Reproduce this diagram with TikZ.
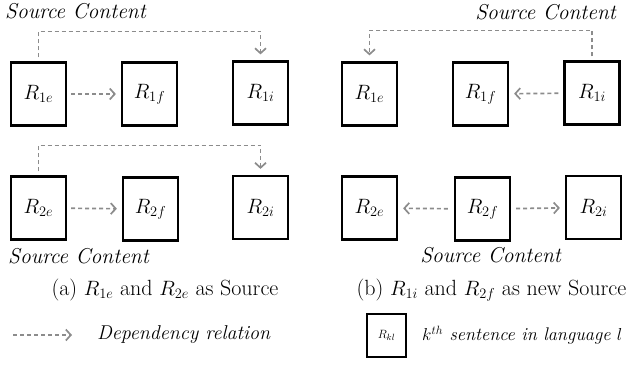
\documentclass[tikz,border=0pt]{standalone}
\usetikzlibrary{arrows.meta,calc}
\begin{document}
\begin{tikzpicture}[x=1pt,y=-1pt,
  box/.style={draw=black,line width=2.2pt,minimum width=55pt,minimum height=63pt,inner sep=0pt,font=\fontsize{20}{24}\selectfont},
  dep/.style={draw={rgb,255:red,140;green,140;blue,140},line width=1.7pt,dash pattern=on 4pt off 3pt,-{Straight Barb[length=5pt,width=11pt,line width=1.7pt]}},
  lbl/.style={inner sep=0pt,font=\fontsize{21.5}{24}\selectfont},
  captext/.style={inner sep=0pt,font=\fontsize{22}{26}\selectfont}]
\useasboundingbox (0,0) rectangle (628,364);
% left panel
\node[box] (a1e) at (38.5,94) {$R_{1e}$};
\node[box] (a1f) at (149.5,94) {$R_{1f}$};
\node[box] (a1i) at (260.5,93) {$R_{1i}$};
\node[box] (a2e) at (38.5,208) {$R_{2e}$};
\node[box] (a2f) at (150.5,209) {$R_{2f}$};
\node[box] (a2i) at (260.5,207.5) {$R_{2i}$};
% right panel
\node[box] (b1e) at (369.5,94) {$R_{1e}$};
\node[box] (b1f) at (480.5,94) {$R_{1f}$};
\node[box] (b1i) at (592,93) {$R_{1i}$};
\node[box] (b2e) at (369.5,208) {$R_{2e}$};
\node[box] (b2f) at (482.5,209) {$R_{2f}$};
\node[box] (b2i) at (593.5,207.5) {$R_{2i}$};
% source content labels
\node[lbl,anchor=west] (sa1) at (5,11) {\textit{Source Content}};
\node[lbl,anchor=east] (sb1) at (617,12) {\textit{Source Content}};
\node[lbl,anchor=west] (sa2) at (8,256) {\textit{Source Content}};
\node[lbl] (sb2) at (491,255) {\textit{Source Content}};
% connectors left
\draw[dep,shorten <=4pt,shorten >=5pt] (a1e) -- (a1f);
\draw[dep,shorten <=4pt,shorten >=6pt] (a1e.north) -- ++(0,-30) -| (a1i.north);
\draw[dep,shorten <=4pt,shorten >=5pt] (a2e) -- (a2f);
\draw[dep,shorten <=4pt,shorten >=6pt] (a2e.north) -- ++(0,-30) -| (a2i.north);
% connectors right
\draw[dep,shorten <=5pt,shorten >=5pt] (b1i) -- (b1f);
\draw[dep,shorten <=4pt,shorten >=6pt] (b1i.north) -- ++(0,-30) -| (b1e.north);
\draw[dep,shorten <=6pt,shorten >=5pt] (b2f) -- (b2e);
\draw[dep,shorten <=5pt,shorten >=5pt] (b2f) -- (b2i);
% captions
\node[captext] (capa) at (165,290) {(a) $R_{1e}$ and $R_{2e}$ as Source};
\node[captext] (capb) at (491.5,290) {(b) $R_{1i}$ and $R_{2f}$ as new Source};
% legend
\coordinate (l1) at (13,335);
\coordinate (l2) at (72,335);
\draw[dep] (l1) -- (l2);
\node[inner sep=0pt,font=\fontsize{20}{24}\selectfont,anchor=west] (ldep) at (97,335) {\textit{Dependency relation}};
\node[draw=black,line width=1.8pt,minimum width=39pt,minimum height=43pt,inner sep=0pt,font=\fontsize{13}{15}\selectfont] (lbox) at (386.5,335.5) {$R_{kl}$};
\node[inner sep=0pt,font=\fontsize{18.3}{22}\selectfont,anchor=west] (lsent) at (422,335) {\textit{$k^{th}$ sentence in language $l$}};
\end{tikzpicture}
\end{document}
